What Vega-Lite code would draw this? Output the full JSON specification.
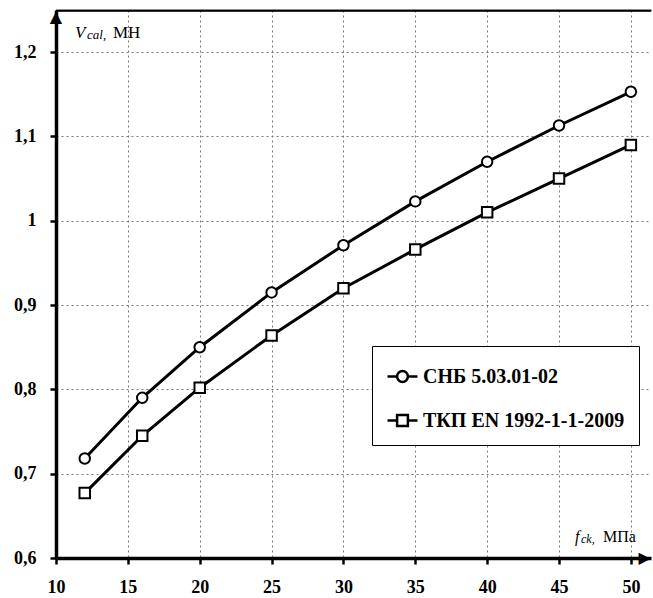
{
  "$schema": "https://vega.github.io/schema/vega-lite/v6.json",
  "width": 595,
  "height": 548,
  "autosize": {"type": "none"},
  "padding": {"left": 56, "top": 10, "right": 2, "bottom": 40},
  "config": {"view": {"stroke": null}, "font": "Liberation Serif"},
  "data": {
    "values": [
      {"fck": 12, "V": 0.718, "series": "СНБ 5.03.01-02"},
      {"fck": 16, "V": 0.790, "series": "СНБ 5.03.01-02"},
      {"fck": 20, "V": 0.850, "series": "СНБ 5.03.01-02"},
      {"fck": 25, "V": 0.915, "series": "СНБ 5.03.01-02"},
      {"fck": 30, "V": 0.971, "series": "СНБ 5.03.01-02"},
      {"fck": 35, "V": 1.023, "series": "СНБ 5.03.01-02"},
      {"fck": 40, "V": 1.070, "series": "СНБ 5.03.01-02"},
      {"fck": 45, "V": 1.113, "series": "СНБ 5.03.01-02"},
      {"fck": 50, "V": 1.153, "series": "СНБ 5.03.01-02"},
      {"fck": 12, "V": 0.677, "series": "ТКП EN 1992-1-1-2009"},
      {"fck": 16, "V": 0.745, "series": "ТКП EN 1992-1-1-2009"},
      {"fck": 20, "V": 0.802, "series": "ТКП EN 1992-1-1-2009"},
      {"fck": 25, "V": 0.864, "series": "ТКП EN 1992-1-1-2009"},
      {"fck": 30, "V": 0.920, "series": "ТКП EN 1992-1-1-2009"},
      {"fck": 35, "V": 0.966, "series": "ТКП EN 1992-1-1-2009"},
      {"fck": 40, "V": 1.010, "series": "ТКП EN 1992-1-1-2009"},
      {"fck": 45, "V": 1.050, "series": "ТКП EN 1992-1-1-2009"},
      {"fck": 50, "V": 1.090, "series": "ТКП EN 1992-1-1-2009"}
    ]
  },
  "resolve": {"scale": {"shape": "independent"}, "legend": {"shape": "independent"}},
  "layer": [
    {
      "mark": {"type": "line", "stroke": "black", "strokeWidth": 3},
      "encoding": {
        "x": {
          "field": "fck", "type": "quantitative",
          "scale": {"domain": [10, 51.4], "nice": false, "zero": false},
          "axis": {
            "title": null, "values": [10, 15, 20, 25, 30, 35, 40, 45, 50],
            "grid": true, "gridDash": [2, 3], "gridColor": "#777", "gridWidth": 1,
            "domainColor": "black", "domainWidth": 3.5,
            "tickColor": "black", "tickWidth": 2.5, "tickSize": 6,
            "labelFont": "Liberation Serif", "labelFontSize": 18, "labelFontWeight": "bold",
            "labelColor": "black", "labelPadding": 14, "labelFlush": false
          }
        },
        "y": {
          "field": "V", "type": "quantitative",
          "scale": {"domain": [0.6, 1.25], "nice": false, "zero": false},
          "axis": {
            "title": null, "values": [0.6, 0.7, 0.8, 0.9, 1.0, 1.1, 1.2, 1.25],
            "labelExpr": "datum.value > 1.22 ? '' : replace(format(datum.value, '.2~f'), '.', ',')",
            "grid": true,
            "gridDash": {"condition": {"test": "datum.value > 1.22", "value": []}, "value": [2, 3]},
            "gridColor": {"condition": {"test": "datum.value > 1.22", "value": "black"}, "value": "#777"},
            "gridWidth": {"condition": {"test": "datum.value > 1.22", "value": 1.5}, "value": 1},
            "domainColor": "black", "domainWidth": 3.5,
            "tickColor": {"condition": {"test": "datum.value > 1.22", "value": "transparent"}, "value": "black"},
            "tickWidth": 2.5, "tickSize": 6,
            "labelFont": "Liberation Serif", "labelFontSize": 18, "labelFontWeight": "bold",
            "labelColor": "black", "labelPadding": 14, "labelFlush": false
          }
        },
        "detail": {"field": "series"}
      }
    },
    {
      "mark": {"type": "point", "filled": true, "fill": "white", "stroke": "black", "strokeWidth": 2, "size": 110, "opacity": 1},
      "encoding": {
        "x": {"field": "fck", "type": "quantitative"},
        "y": {"field": "V", "type": "quantitative"},
        "shape": {
          "field": "series", "type": "nominal",
          "scale": {"domain": ["СНБ 5.03.01-02", "ТКП EN 1992-1-1-2009"], "range": ["circle", "square"]},
          "legend": null
        }
      }
    },
    {
      "transform": [{"filter": "datum.fck < 0"}],
      "mark": {"type": "point", "filled": false, "stroke": "black", "strokeWidth": 2.5, "opacity": 1},
      "encoding": {
        "shape": {
          "field": "series", "type": "nominal",
          "scale": {
            "domain": ["СНБ 5.03.01-02", "ТКП EN 1992-1-1-2009"],
            "range": [
              "M-1,0H-0.36M0.36,0H1M-0.36,0A0.36,0.36 0 1,1 0.36,0A0.36,0.36 0 1,1 -0.36,0Z",
              "M-1,0H-0.36M0.36,0H1M-0.36,-0.36H0.36V0.36H-0.36Z"
            ]
          },
          "legend": {
            "title": null, "orient": "none", "legendX": 316, "legendY": 336,
            "strokeColor": "black", "fillColor": "white", "padding": 14,
            "symbolSize": 900, "symbolStrokeWidth": 2.5, "symbolStrokeColor": "black", "symbolOpacity": 1,
            "labelFont": "Liberation Serif", "labelFontSize": 20, "labelFontWeight": "bold", "labelColor": "black", "labelOffset": 4,
            "labelLimit": 400, "rowPadding": 17,
            "labelExpr": "datum.label + ' '"
          }
        }
      }
    },
    {
      "data": {"values": [{"a": 1}]},
      "mark": {"type": "rule", "color": "black", "strokeWidth": 2},
      "encoding": {"y": {"datum": 1.249}}
    },
    {
      "data": {"values": [{"a": 1}]},
      "mark": {"type": "text", "text": "▲", "font": "DejaVu Sans", "fontSize": 16, "align": "center", "baseline": "middle", "dy": 6, "dx": 0, "color": "black"},
      "encoding": {"x": {"datum": 10}, "y": {"datum": 1.249}}
    },
    {
      "data": {"values": [{"a": 1}]},
      "mark": {"type": "text", "text": "▶", "font": "DejaVu Sans", "fontSize": 16, "align": "center", "baseline": "middle", "dx": -6, "dy": 0, "color": "black"},
      "encoding": {"x": {"datum": 51.38}, "y": {"datum": 0.6}}
    },
    {
      "data": {"values": [{"a": 1}]},
      "mark": {"type": "text", "text": "V", "fontStyle": "italic", "fontWeight": "normal", "fontSize": 17, "align": "left", "baseline": "alphabetic", "dx": 19, "dy": 28, "color": "black"},
      "encoding": {"x": {"datum": 10}, "y": {"datum": 1.25}}
    },
    {
      "data": {"values": [{"a": 1}]},
      "mark": {"type": "text", "text": "cal,", "fontStyle": "italic", "fontWeight": "normal", "fontSize": 13, "align": "left", "baseline": "alphabetic", "dx": 31, "dy": 29, "color": "black"},
      "encoding": {"x": {"datum": 10}, "y": {"datum": 1.25}}
    },
    {
      "data": {"values": [{"a": 1}]},
      "mark": {"type": "text", "text": "МН", "fontWeight": "normal", "fontSize": 17, "align": "left", "baseline": "alphabetic", "dx": 57, "dy": 28, "color": "black"},
      "encoding": {"x": {"datum": 10}, "y": {"datum": 1.25}}
    },
    {
      "data": {"values": [{"a": 1}]},
      "mark": {"type": "text", "text": "f", "fontStyle": "italic", "fontWeight": "normal", "fontSize": 16, "align": "left", "baseline": "alphabetic", "dx": -76, "dy": -16, "color": "black"},
      "encoding": {"x": {"datum": 51.4}, "y": {"datum": 0.6}}
    },
    {
      "data": {"values": [{"a": 1}]},
      "mark": {"type": "text", "text": "ck,", "fontStyle": "italic", "fontWeight": "normal", "fontSize": 12, "align": "left", "baseline": "alphabetic", "dx": -70, "dy": -15, "color": "black"},
      "encoding": {"x": {"datum": 51.4}, "y": {"datum": 0.6}}
    },
    {
      "data": {"values": [{"a": 1}]},
      "mark": {"type": "text", "text": "МПа", "fontWeight": "normal", "fontSize": 16, "align": "left", "baseline": "alphabetic", "dx": -48, "dy": -16, "color": "black"},
      "encoding": {"x": {"datum": 51.4}, "y": {"datum": 0.6}}
    }
  ]
}
